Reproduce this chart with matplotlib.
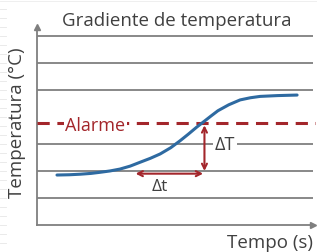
import numpy as np
import matplotlib.pyplot as plt
from matplotlib.lines import Line2D

plt.rcParams['font.family'] = ['Open Sans', 'DejaVu Sans']

# curve (time units, temperature units)
curve_t = [0.74, 1.2, 1.6, 2.0, 2.33, 2.7, 3.07, 3.45, 3.81, 4.2, 4.56, 4.95,
           5.30, 5.6, 5.91, 6.22, 6.45, 6.70, 7.1, 7.52, 7.9, 8.26, 8.9, 9.63]
curve_T = [1.85, 1.86, 1.88, 1.91, 1.95, 2.0, 2.07, 2.18, 2.32, 2.47, 2.63, 2.86,
           3.12, 3.36, 3.62, 3.86, 4.04, 4.23, 4.45, 4.63, 4.71, 4.76, 4.79, 4.81]
grid_levels = [1, 2, 3, 5, 6, 7]
alarm_level = 3.79
dt_start, dt_end, dt_level = 3.65, 6.15, 1.9
dT_x, dT_bottom = 6.2, 2.0

grey = '#7f7f7f'
red = '#a3262b'
blue = '#2e6aa1'
text_col = '#404040'

fig = plt.figure(figsize=(3.17, 2.53), dpi=100)
ax = fig.add_axes([37/317, 1 - 226/253, (316 - 37)/317, (226 - 25)/253])
ax.set_xlim(0, 10.33)
ax.set_ylim(0, 7.44)
ax.axis('off')

# page margin decoration
for yy in np.arange(10, 253, 9):
    fig.add_artist(Line2D([0, 6/317], [1 - yy/253, 1 - yy/253], color='#e6e6e6', lw=0.6))
fig.add_artist(Line2D([0, 1], [1 - 2/253, 1 - 2/253], color='#ececec', lw=0.6))

# gridlines
ax.hlines(grid_levels, 0, 10.22, color=grey, lw=1.3, zorder=1)

# axes with arrow heads
ax.plot([0, 10.2], [0, 0], color=grey, lw=1.3, clip_on=False)
ax.plot([0, 0], [0, 7.3], color=grey, lw=1.3, clip_on=False)
ax.plot(10.22, 0, marker='>', ms=5, color=grey, clip_on=False)
ax.plot(0, 7.32, marker='^', ms=5, color=grey, clip_on=False)

# alarm line
ax.plot([0, 10.33], [alarm_level, alarm_level], color=red, lw=2.2,
        dashes=(4, 2.5), zorder=2)
ax.text(2.15, alarm_level - 0.08, 'Alarme', color=red, fontsize=13,
        ha='center', va='center', zorder=3,
        bbox=dict(facecolor='white', edgecolor='none', pad=1))

# temperature curve
ax.plot(curve_t, curve_T, color=blue, lw=2.2, solid_capstyle='round', zorder=4)

# delta t arrow
ax.annotate('', xy=(dt_end, dt_level), xytext=(dt_start, dt_level),
            arrowprops=dict(arrowstyle='<->', color=red, lw=1.5, mutation_scale=9,
                            shrinkA=0, shrinkB=0), zorder=5)
ax.text(4.56, 1.43, 'Δt', color=text_col, fontsize=12.5, ha='center', va='center')

# delta T arrow
ax.annotate('', xy=(dT_x, alarm_level - 0.1), xytext=(dT_x, dT_bottom),
            arrowprops=dict(arrowstyle='<->', color=red, lw=1.5, mutation_scale=9,
                            shrinkA=0, shrinkB=0), zorder=5)
ax.text(6.96, 2.98, 'ΔT', color=text_col, fontsize=13, ha='center', va='center',
        zorder=3, bbox=dict(facecolor='white', edgecolor='none', pad=1.5))

fig.text(177/317, 1 - 21/253, 'Gradiente de temperatura', color=text_col,
         fontsize=13.5, ha='center', va='center')
fig.text(17/317, 1 - 123/253, 'Temperatura (°C)', color=text_col,
         fontsize=13.5, ha='center', va='center', rotation=90)
fig.text(270/317, 1 - 243/253, 'Tempo (s)', color=text_col,
         fontsize=13.5, ha='center', va='center')

fig.savefig('out.png', dpi=100, facecolor='white')
